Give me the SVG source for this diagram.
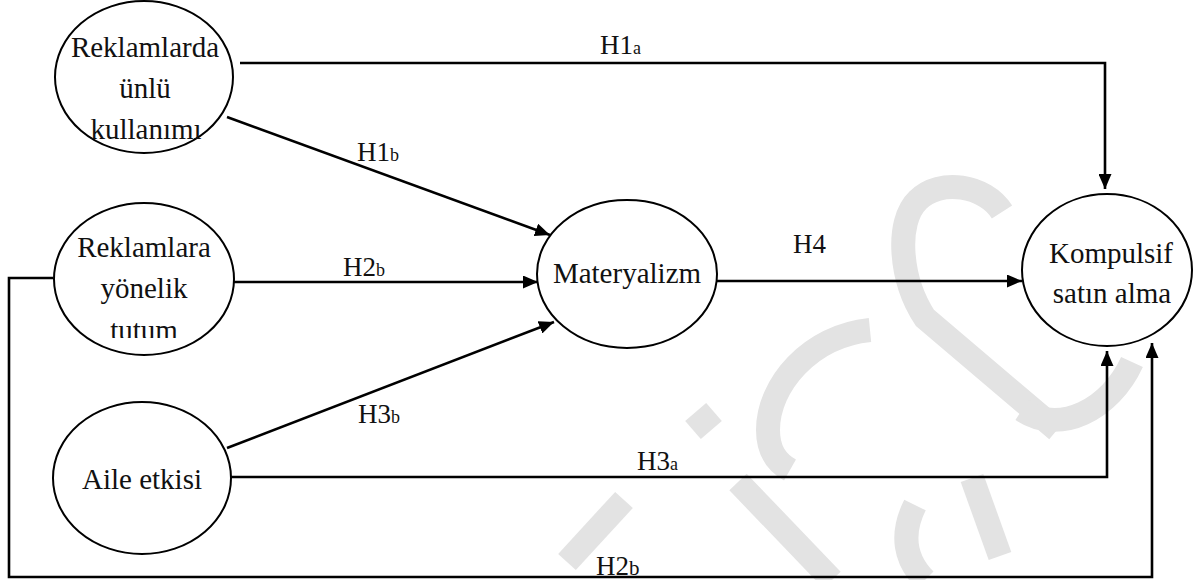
<svg xmlns="http://www.w3.org/2000/svg" width="1195" height="580" viewBox="0 0 1195 580">
<style>
.node{fill:#fff;stroke:#000;stroke-width:2}
.t{font-family:"Liberation Serif","Times New Roman",serif;font-size:29px;fill:#111;text-anchor:middle}
.lbl{font-family:"Liberation Serif","Times New Roman",serif;font-size:27px;fill:#111}
.sub{font-size:18px}
.edge{fill:none;stroke:#000;stroke-width:2.6}
.wm{fill:none;stroke:#e3e3e3;stroke-width:24;stroke-linecap:butt}
</style>
<defs>
<marker id="ah" markerUnits="userSpaceOnUse" markerWidth="17" markerHeight="13" refX="15" refY="6.5" orient="auto">
<path d="M0,0 L15,6.5 L0,13 z" fill="#000"/>
</marker>
<clipPath id="clipTutum"><rect x="40" y="200" width="200" height="138"/></clipPath>
</defs>
<rect width="1195" height="580" fill="#fff"/>
<g id="watermark">
<path class="wm" d="M567,562 L624,500"/>
<path class="wm" d="M693,430 L714,412" stroke-width="16"/>
<path class="wm" d="M738,482 L832,580" stroke-width="28"/>
<path class="wm" d="M870,330 C810,336 768,385 768,430 C768,450 776,462 790,470"/>
<path class="wm" d="M1002,212 C985,185 940,178 918,200 C895,222 900,280 925,318 L1057,430"/>
<path class="wm" d="M1022,410 C1060,435 1110,410 1132,362"/>
<path class="wm" d="M915,505 C900,535 905,560 925,580"/>
<path class="wm" d="M972,478 L1000,556"/>
</g>
<g id="connectors">
<path class="edge" d="M240,63 H1105 V189" marker-end="url(#ah)"/>
<path class="edge" d="M227,117 L550,235" marker-end="url(#ah)"/>
<path class="edge" d="M234,282 H538" marker-end="url(#ah)"/>
<path class="edge" d="M227,448 L554,322" marker-end="url(#ah)"/>
<path class="edge" d="M717,281 H1022" marker-end="url(#ah)"/>
<path class="edge" d="M229,477 H1107 V351" marker-end="url(#ah)"/>
<path class="edge" d="M53,278 H9 V577 H1152 V343" marker-end="url(#ah)"/>
</g>
<g id="labels">
<text class="lbl" x="600" y="54">H1<tspan class="sub">a</tspan></text>
<text class="lbl" x="357" y="161">H1<tspan class="sub">b</tspan></text>
<text class="lbl" x="343" y="276">H2<tspan class="sub">b</tspan></text>
<text class="lbl" x="358" y="423">H3<tspan class="sub">b</tspan></text>
<text class="lbl" x="637" y="470">H3<tspan class="sub">a</tspan></text>
<text class="lbl" x="793" y="253" font-size="30">H4</text>
<text class="lbl" x="596" y="575" font-size="30">H2<tspan font-size="21">b</tspan></text>
</g>
<g id="node-reklamlarda">
<ellipse class="node" cx="144" cy="77" rx="89" ry="76"/>
<text class="t" x="145" y="57">Reklamlarda</text>
<text class="t" x="145" y="98">ünlü</text>
<text class="t" x="146" y="139">kullanımı</text>
</g>
<g id="node-reklamlara">
<ellipse class="node" cx="144" cy="279" rx="90" ry="76"/>
<text class="t" x="144" y="257">Reklamlara</text>
<text class="t" x="144" y="298">yönelik</text>
<text class="t" x="144" y="340" clip-path="url(#clipTutum)">tutum</text>
</g>
<g id="node-aile">
<ellipse class="node" cx="142" cy="478" rx="89" ry="76"/>
<text class="t" x="142" y="489">Aile etkisi</text>
</g>
<g id="node-materyalizm">
<ellipse class="node" cx="627" cy="274" rx="90" ry="74"/>
<text class="t" x="627" y="283">Materyalizm</text>
</g>
<g id="node-kompulsif">
<ellipse class="node" cx="1107" cy="270" rx="85" ry="76"/>
<text class="t" x="1111" y="263">Kompulsif</text>
<text class="t" x="1112" y="303">satın alma</text>
</g>
</svg>
